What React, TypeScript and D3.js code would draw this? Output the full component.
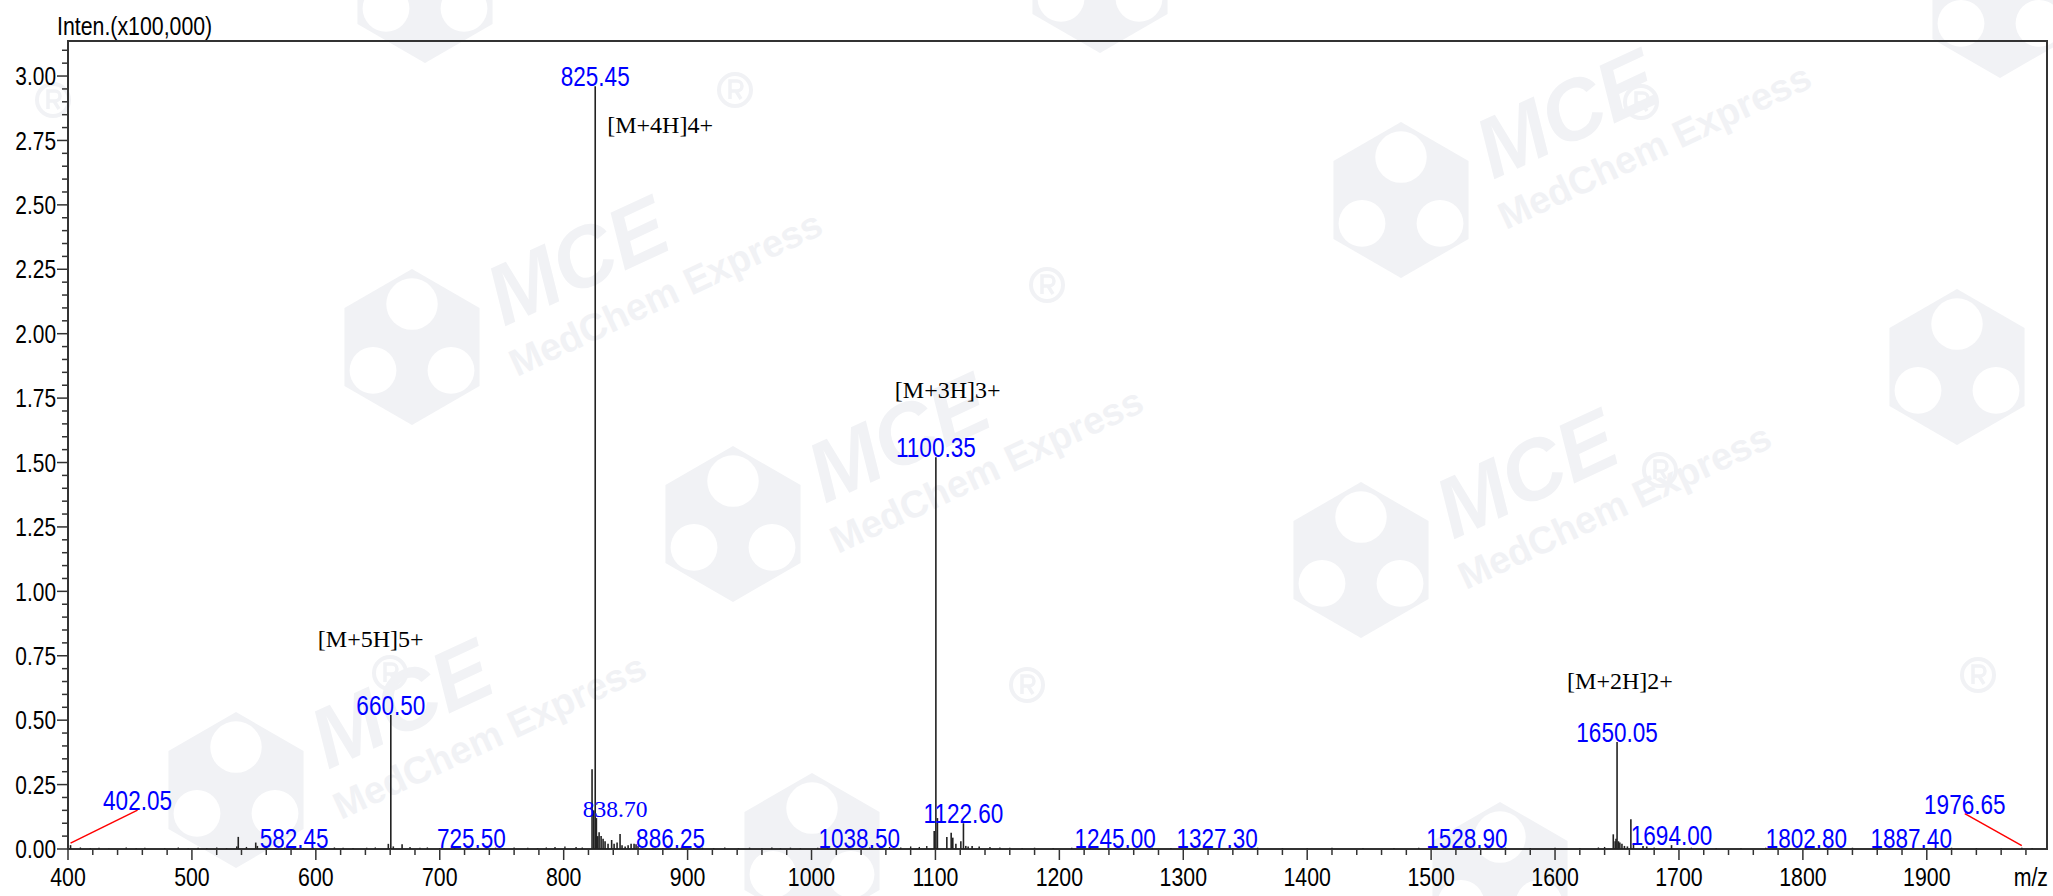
import React from 'react';
import * as d3 from 'd3';

const W = 2053;
const H = 896;

// ---- data ----
const peakMz = [
  402.05, 536.2, 537.4, 551.5, 552.8, 582.45, 658.5, 660.5, 662.5, 669.6, 725.5,
  822.9, 824.3, 825.45, 826.4, 827.5, 828.6, 830.2, 831.8, 833.4, 835.8, 838.7, 840.7,
  843.1, 845.5, 847.1, 849.6, 852.0, 854.4, 856.8, 858.4, 860.0, 886.25, 1038.5,
  1099.0, 1100.35, 1101.6, 1109.2, 1112.7, 1114.0, 1116.5, 1120.5, 1122.6, 1124.5,
  1126.4, 1129.6, 1135.3, 1245.0, 1327.3, 1528.9, 1647.0, 1648.5, 1649.2, 1650.05,
  1651.2, 1652.3, 1654.0, 1656.0, 1658.4, 1661.2, 1663.3, 1671.0, 1674.0, 1694.0,
  1802.8, 1887.4, 1976.65,
];
const peakInt = [
  0.015, 0.01, 0.047, 0.025, 0.012, 0.004, 0.02, 0.52, 0.01, 0.018, 0.004,
  0.31, 0.15, 2.96, 0.12, 0.05, 0.065, 0.05, 0.04, 0.03, 0.02, 0.035, 0.02,
  0.025, 0.058, 0.015, 0.01, 0.015, 0.02, 0.02, 0.018, 0.012, 0.004, 0.004,
  0.07, 1.52, 0.12, 0.047, 0.063, 0.044, 0.02, 0.03, 0.1, 0.012,
  0.01, 0.012, 0.01, 0.004, 0.004, 0.004, 0.057, 0.03, 0.04, 0.415,
  0.03, 0.025, 0.02, 0.012, 0.01, 0.115, 0.02, 0.012, 0.01, 0.015,
  0.004, 0.004, 0.005,
];
const noiseMz = [
  410, 418, 425, 433, 447, 455, 462, 478, 489, 497, 505, 512, 520, 528, 544, 560, 568,
  575, 590, 598, 607, 615, 622, 630, 641, 648, 676, 684, 690, 700, 712, 738, 745, 752,
  760, 771, 779, 786, 793, 801, 810, 815, 872, 880, 895, 905, 912, 921, 930, 941, 950,
  960, 968, 975, 983, 991, 1005, 1013, 1022, 1030, 1047, 1055, 1063, 1072, 1080, 1087,
  1093, 1144, 1152, 1160, 1170, 1180, 1195, 1210, 1225, 1260, 1275, 1290, 1305, 1340,
  1360, 1380, 1400, 1420, 1445, 1470, 1490, 1510, 1545, 1560, 1580, 1600, 1620, 1635,
  1640, 1680, 1710, 1730, 1750, 1770, 1790, 1820, 1840, 1860, 1900, 1920, 1940, 1960, 1985,
];
const noiseInt = [
  0.006, 0.004, 0.005, 0.003, 0.006, 0.004, 0.005, 0.004, 0.006, 0.003, 0.005, 0.004, 0.006, 0.004, 0.008, 0.005, 0.004,
  0.006, 0.004, 0.005, 0.004, 0.006, 0.005, 0.004, 0.005, 0.006, 0.008, 0.005, 0.006, 0.004, 0.005, 0.004, 0.005,
  0.004, 0.006, 0.005, 0.004, 0.006, 0.008, 0.01, 0.008, 0.006, 0.005, 0.004, 0.006, 0.004, 0.005, 0.004, 0.006, 0.004,
  0.005, 0.004, 0.006, 0.004, 0.005, 0.004, 0.005, 0.006, 0.004, 0.005, 0.006, 0.004, 0.008, 0.006, 0.01, 0.008,
  0.012, 0.008, 0.006, 0.005, 0.004, 0.005, 0.004, 0.005, 0.004, 0.004, 0.005, 0.004, 0.004, 0.004,
  0.005, 0.004, 0.004, 0.005, 0.004, 0.004, 0.005, 0.004, 0.004, 0.005, 0.004, 0.005, 0.004, 0.006,
  0.008, 0.006, 0.005, 0.004, 0.004, 0.005, 0.004, 0.004, 0.005, 0.004, 0.004, 0.005, 0.004, 0.004, 0.004,
];
const labelMz = [
  402.05, 582.45, 660.5, 725.5, 825.45, 886.25, 1038.5, 1100.35, 1122.6, 1245.0,
  1327.3, 1528.9, 1650.05, 1694.0, 1802.8, 1887.4, 1976.65,
];
const serifLabelMz = [838.7];
const ionLabels = ['[M+5H]5+', '[M+4H]4+', '[M+3H]3+', '[M+2H]2+'];
const ionMz = [660.5, 825.45, 1100.35, 1650.05];
const yTickValues = [0, 0.25, 0.5, 0.75, 1.0, 1.25, 1.5, 1.75, 2.0, 2.25, 2.5, 2.75, 3.0];
const xTickValues = [400, 500, 600, 700, 800, 900, 1000, 1100, 1200, 1300, 1400, 1500, 1600, 1700, 1800, 1900];

// ---- layout (not data) ----
const L = 68, R = 2047, T = 41, B = 849;
const leaderOffsets: Record<string, [number, number]> = { '402.05': [67, -35], '1976.65': [-57, -34] };
const serifOffsets: [number, number][] = [[3.5, -23]];
const ionOffsets: [number, number][] = [[-73, -68], [12, 47], [-41, -59], [-50, -53]];
const WM = '#f1f2f5';
const wmFull: [number, number][] = [
  [412, 347], [733, 524], [1401, 200], [1361, 560], [236, 790],
];
const wmLogo: [number, number][] = [
  [425, -15], [1100, -25], [2000, 0], [1957, 367], [812, 851], [1500, 880],
];
const wmMark: [number, number][] = [
  [53, 100], [735, 90], [1641, 102], [390, 673], [1027, 685], [1978, 675], [1047, 285], [1660, 470],
];

const SANS = "'Liberation Sans', Arial, sans-serif";
const SERIF = "'Liberation Serif', 'Times New Roman', serif";

function NText(props: { x: number; y: number; size: number; anchor?: string; fill?: string; children: React.ReactNode; dy?: string }) {
  const { x, y, size, anchor = 'start', fill = '#000', children, dy } = props;
  return (
    <text transform={`translate(${x},${y}) scale(0.82,1)`} fontFamily={SANS} fontSize={size}
      textAnchor={anchor as any} fill={fill} dy={dy}>{children}</text>
  );
}

function Logo({ x, y }: { x: number; y: number }) {
  const r = 78;
  const hex = d3.range(6).map(i => {
    const a = Math.PI / 3 * i - Math.PI / 2;
    return [r * Math.cos(a), r * Math.sin(a)];
  });
  return (
    <g transform={`translate(${x},${y})`}>
      <path d={'M' + hex.map(p => p.join(',')).join('L') + 'Z'} fill={WM} />
      <circle cx={0} cy={-r * 0.55} r={r * 0.33} fill="#fff" />
      <circle cx={-r * 0.5} cy={r * 0.3} r={r * 0.3} fill="#fff" />
      <circle cx={r * 0.5} cy={r * 0.3} r={r * 0.3} fill="#fff" />
    </g>
  );
}

function Mark({ x, y }: { x: number; y: number }) {
  return (
    <g transform={`translate(${x},${y})`}>
      <circle r={16} fill="none" stroke={WM} strokeWidth={4} />
      <path d="M-5,9V-9H2A5,5 0 0 1 2,1H-5M1,1L6,9" fill="none" stroke={WM} strokeWidth={3.5} />
    </g>
  );
}

function Watermark({ x, y }: { x: number; y: number }) {
  return (
    <g>
      <Logo x={x} y={y} />
      <g transform={`translate(${x + 92},${y - 20}) rotate(-25)`}>
        <text x={0} y={0} fontFamily={SANS} fontWeight="bold" fontStyle="italic" fontSize={85} fill={WM}>MCE</text>
      </g>
      <g transform={`translate(${x + 105},${y + 30}) rotate(-25)`}>
        <text x={0} y={0} fontFamily={SANS} fontWeight="bold" fontSize={38} fill={WM}>MedChem Express</text>
      </g>
    </g>
  );
}

export default function App() {
  const x = d3.scaleLinear().domain([400, 1997]).range([L, R]);
  const y = d3.scaleLinear().domain([0, 3.136]).range([B, T]);
  const yMinor = d3.range(0, 3.1001, 0.05);
  const xMinor = d3.range(400, 1997, 20);
  const intOf = (mz: number) => peakInt[peakMz.indexOf(mz)] ?? 0;

  return (
    <svg width={W} height={H} style={{ position: 'absolute', left: 0, top: 0, background: '#fff' }}>
      <rect width={W} height={H} fill="#fff" />
      <defs>
        <clipPath id="plot"><rect x={L} y={T} width={R - L} height={B - T} /></clipPath>
      </defs>
      <g>
        {wmLogo.map(([wx, wy], i) => <Logo key={'l' + i} x={wx} y={wy} />)}
        {wmFull.map(([wx, wy], i) => <Watermark key={'w' + i} x={wx} y={wy} />)}
        {wmMark.map(([wx, wy], i) => <Mark key={'m' + i} x={wx} y={wy} />)}
      </g>

      {/* frame */}
      <rect x={L} y={T} width={R - L} height={B - T} fill="none" stroke="#333" strokeWidth={2} />

      {/* y axis */}
      {yMinor.map((v, i) => {
        const major = Math.abs(v / 0.25 - Math.round(v / 0.25)) < 1e-6;
        return <line key={i} x1={major ? L - 11 : L - 6} x2={L} y1={y(v)} y2={y(v)} stroke="#333" strokeWidth={1.5} />;
      })}
      {yTickValues.map(v => (
        <NText key={v} x={L - 12} y={y(v)} size={25.5} anchor="end" dy="0.36em">{v.toFixed(2)}</NText>
      ))}
      <NText x={57} y={35} size={26}>Inten.(x100,000)</NText>

      {/* x axis */}
      {xMinor.map((v, i) => {
        const major = v % 100 === 0;
        return <line key={i} x1={x(v)} x2={x(v)} y1={B} y2={B + (major ? 11 : 6)} stroke="#333" strokeWidth={1.5} />;
      })}
      {xTickValues.map(v => (
        <NText key={v} x={x(v)} y={886} size={26} anchor="middle">{String(v)}</NText>
      ))}
      <NText x={2048} y={886} size={26} anchor="end">m/z</NText>

      {/* spectrum sticks */}
      <g clipPath="url(#plot)">
        {noiseMz.map((m, i) => (
          <line key={'n' + i} x1={x(m)} x2={x(m)} y1={B} y2={y(noiseInt[i])} stroke="#222" strokeWidth={1.4} />
        ))}
        {peakMz.map((m, i) => (
          <line key={'p' + i} x1={x(m)} x2={x(m)} y1={B} y2={y(peakInt[i])} stroke="#222" strokeWidth={1.6} />
        ))}
      </g>

      {/* peak labels */}
      {labelMz.map(m => {
        const key = m.toFixed(2);
        const px = x(m), py = y(intOf(m));
        const off = leaderOffsets[key];
        if (off) {
          return (
            <g key={key}>
              <line x1={px} y1={py - 2} x2={px + off[0]} y2={py + off[1]} stroke="#ff0000" strokeWidth={1.5} />
              <NText x={px + off[0]} y={py + off[1]} size={27.5} anchor="middle" fill="#0000ff">{key}</NText>
            </g>
          );
        }
        return <NText key={key} x={px} y={py} size={27.5} anchor="middle" fill="#0000ff">{key}</NText>;
      })}
      {serifLabelMz.map((m, i) => (
        <text key={m} x={x(m) + serifOffsets[i][0]} y={y(intOf(m)) + serifOffsets[i][1]} fontFamily={SERIF}
          fontSize={23.5} textAnchor="middle" fill="#0000ff">{m.toFixed(2)}</text>
      ))}
      {ionLabels.map((t, i) => (
        <text key={t} x={x(ionMz[i]) + ionOffsets[i][0]} y={y(intOf(ionMz[i])) + ionOffsets[i][1]}
          fontFamily={SERIF} fontSize={24} fill="#000">{t}</text>
      ))}
    </svg>
  );
}
